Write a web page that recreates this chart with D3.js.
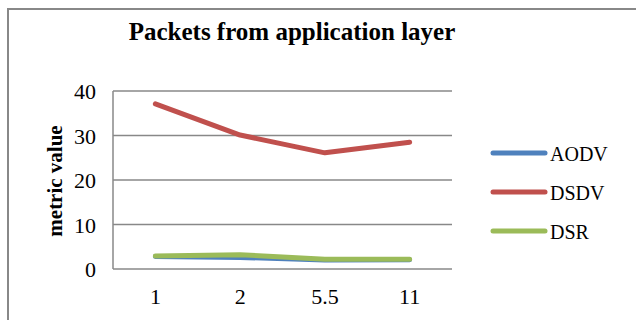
<!DOCTYPE html>
<html>
<head>
<meta charset="utf-8">
<script src="https://cdn.jsdelivr.net/npm/d3@7"></script>
</head>
<body style="margin:0">
<svg id="chart" width="636" height="320"></svg>
<script>
// chart data
const categories = ["1", "2", "5.5", "11"];
const seriesNames = ["AODV", "DSDV", "DSR"];
const aodv = [2.8, 2.6, 2.0, 2.1];
const dsdv = [37.1, 30.1, 26.1, 28.5];
const dsr = [2.9, 3.2, 2.2, 2.2];
const yTicks = [0, 10, 20, 30, 40];
const colors = ["#4F81BD", "#C0504D", "#9BBB59"];

const seriesValues = [aodv, dsdv, dsr];
const FONT = "Liberation Serif";

const svg = d3.select("#chart");

// outer frame (runs off the right and bottom edges)
svg.append("rect")
  .attr("x", 8).attr("y", 9)
  .attr("width", 700).attr("height", 400)
  .attr("fill", "none")
  .attr("stroke", "#888")
  .attr("stroke-width", 2);

const plot = {left: 113, right: 452, top: 91, bottom: 269};

const x = d3.scalePoint()
  .domain(categories)
  .range([plot.left, plot.right])
  .padding(0.5);

const y = d3.scaleLinear()
  .domain([0, 40])
  .range([plot.bottom, plot.top]);

// gridlines
svg.append("g")
  .selectAll("line")
  .data(yTicks)
  .join("line")
  .attr("x1", plot.left).attr("x2", plot.right)
  .attr("y1", d => y(d)).attr("y2", d => y(d))
  .attr("stroke", "#888")
  .attr("stroke-width", 1.5);

// left axis line
svg.append("line")
  .attr("x1", plot.left).attr("x2", plot.left)
  .attr("y1", plot.top).attr("y2", plot.bottom)
  .attr("stroke", "#888")
  .attr("stroke-width", 1.5);

// y tick labels
svg.append("g")
  .selectAll("text")
  .data(yTicks)
  .join("text")
  .attr("x", 96)
  .attr("y", d => y(d) + 8)
  .attr("text-anchor", "end")
  .style("font-family", FONT)
  .style("font-size", "22px")
  .text(d => d);

// x tick labels
svg.append("g")
  .selectAll("text")
  .data(categories)
  .join("text")
  .attr("x", d => x(d))
  .attr("y", 304)
  .attr("text-anchor", "middle")
  .style("font-family", FONT)
  .style("font-size", "22px")
  .text(d => d);

// y axis title
svg.append("text")
  .attr("transform", "translate(62,181) rotate(-90)")
  .attr("text-anchor", "middle")
  .style("font-family", FONT)
  .style("font-size", "21px")
  .style("font-weight", "bold")
  .text("metric value");

// chart title
svg.append("text")
  .attr("x", 292)
  .attr("y", 40)
  .attr("text-anchor", "middle")
  .style("font-family", FONT)
  .style("font-size", "25px")
  .style("font-weight", "bold")
  .text("Packets from application layer");

// lines
const line = d3.line()
  .x((d, i) => x(categories[i]))
  .y(d => y(d));

svg.append("g")
  .selectAll("path")
  .data(seriesValues)
  .join("path")
  .attr("d", d => line(d))
  .attr("fill", "none")
  .attr("stroke", (d, i) => colors[i])
  .attr("stroke-width", 5)
  .attr("stroke-linejoin", "round")
  .attr("stroke-linecap", "round");

// legend
const legendY = [153, 192, 231];
const legend = svg.append("g")
  .selectAll("g")
  .data(seriesNames)
  .join("g")
  .attr("transform", (d, i) => `translate(0,${legendY[i]})`);

legend.append("line")
  .attr("x1", 493).attr("x2", 545)
  .attr("y1", 0).attr("y2", 0)
  .attr("stroke", (d, i) => colors[i])
  .attr("stroke-width", 5)
  .attr("stroke-linecap", "round");

legend.append("text")
  .attr("x", 550)
  .attr("y", 7.5)
  .style("font-family", FONT)
  .style("font-size", "20px")
  .text(d => d);
</script>
</body>
</html>
